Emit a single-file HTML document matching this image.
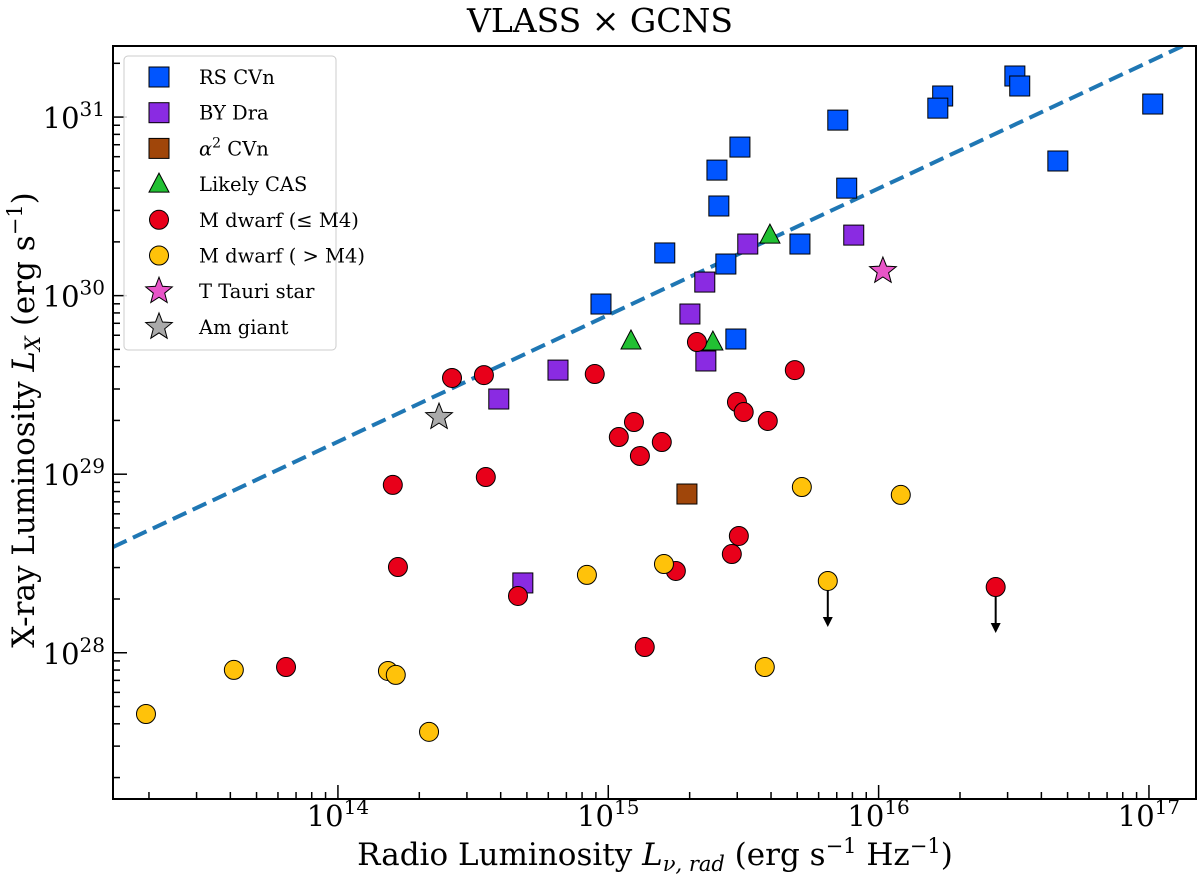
<!DOCTYPE html>
<html><head><meta charset="utf-8"><style>
body{margin:0;background:#fff;}
svg{display:block;font-family:"DejaVu Serif","Liberation Serif",serif;}
</style></head><body>
<svg id="chart" width="1200" height="878"></svg>
<script>
const rsX=[16.504,16.522,16.237,16.219,17.014,16.663,15.849,15.882,15.709,15.487,15.402,15.409,15.435,15.209,14.973,15.472];
const rsY=[31.230,31.174,31.118,31.050,31.073,30.754,30.983,30.602,30.289,30.832,30.703,30.502,30.177,30.239,29.953,29.757];
const byX=[15.908,15.516,15.357,15.302,15.361,14.814,14.595,14.684];
const byY=[30.339,30.289,30.076,29.897,29.634,29.583,29.421,28.391];
const a2X=[15.291];const a2Y=[28.889];
const casX=[15.598,15.084,15.387];const casY=[30.339,29.746,29.740];
const redX=[14.422,14.540,14.950,15.690,15.328,15.476,15.501,15.590,15.095,15.039,15.198,15.117,14.547,14.203,15.483,15.457,15.250,14.222,14.666,15.135,13.808,16.433];
const redY=[29.539,29.555,29.561,29.583,29.740,29.404,29.348,29.298,29.292,29.208,29.180,29.102,28.984,28.940,28.654,28.553,28.458,28.480,28.318,28.032,27.920,28.368];
const redLimit=[0,0,0,0,0,0,0,0,0,0,0,0,0,0,0,0,0,0,0,0,0,1];
const yelX=[13.290,13.615,14.185,14.214,14.337,14.921,15.206,15.716,16.082,15.579,15.812];
const yelY=[27.657,27.904,27.898,27.876,27.557,28.436,28.497,28.928,28.884,27.920,28.402];
const yelLimit=[0,0,0,0,0,0,0,0,0,0,1];
const ttX=[16.016];const ttY=[30.138];
const amX=[14.374];const amY=[29.320];
const fitX=[13.168,17.132];const fitY=[28.592,31.403];
const xTicks=[14,15,16,17];const yTicks=[28,29,30,31];

const NS="http://www.w3.org/2000/svg";
const svg=document.getElementById('chart');
const L=113,R=1196,T=46,B=799;
const X0=13.168,X1=17.174,Y0=27.181,Y1=31.398;
const sx=v=>L+(v-X0)/(X1-X0)*(R-L);
const sy=v=>B-(v-Y0)/(Y1-Y0)*(B-T);
function el(tag,attrs,parent){const e=document.createElementNS(NS,tag);for(const k in attrs)e.setAttribute(k,attrs[k]);(parent||svg).appendChild(e);return e;}

const title=el('text',{x:600,y:32,'text-anchor':'middle','font-size':33});
title.textContent='VLASS × GCNS';



const defs=el('defs',{});
const cp=el('clipPath',{id:'pc'},defs);el('rect',{x:L,y:T,width:R-L,height:B-T},cp);

const tg=el('g',{stroke:'#000','stroke-width':1.5});


for(let d=13;d<=17;d++){for(let m=1;m<10;m++){const v=d+Math.log10(m);if(v<X0||v>X1)continue;const x=sx(v);el('line',{x1:x,x2:x,y1:B,y2:B-(m==1?14:7)},tg);}}
for(let d=27;d<=31;d++){for(let m=1;m<10;m++){const v=d+Math.log10(m);if(v<Y0||v>Y1)continue;const y=sy(v);el('line',{x1:L,x2:L+(m==1?14:7),y1:y,y2:y},tg);}}
xTicks.forEach(t=>{const tx=el('text',{x:sx(t),y:B+27,'text-anchor':'middle','font-size':29});tx.innerHTML='10<tspan dy="-12" font-size="20">'+t+'</tspan>';});
yTicks.forEach(t=>{const tx=el('text',{x:L-8,y:sy(t)+11,'text-anchor':'end','font-size':29});tx.innerHTML='10<tspan dy="-12" font-size="20">'+t+'</tspan>';});

const xl=el('text',{x:655,y:865,'text-anchor':'middle','font-size':31});

xl.innerHTML='Radio Luminosity <tspan font-style="italic">L</tspan><tspan font-size="21" dy="6" font-style="italic">ν, rad</tspan><tspan dy="-6"> (erg s</tspan><tspan dy="-12" font-size="21">−1</tspan><tspan dy="12"> Hz</tspan><tspan dy="-12" font-size="21">−1</tspan><tspan dy="12">)</tspan>';
const yl=el('text',{x:0,y:0,'text-anchor':'middle','font-size':31,transform:'translate(34,420) rotate(-90)'});

yl.innerHTML='X-ray Luminosity <tspan font-style="italic">L</tspan><tspan font-size="21" dy="6" font-style="italic">X</tspan><tspan dy="-6"> (erg s</tspan><tspan dy="-12" font-size="21">−1</tspan><tspan dy="12">)</tspan>';

const fl=el('line',{x1:sx(fitX[0]),y1:sy(fitY[0]),x2:sx(fitX[1]),y2:sy(fitY[1]),stroke:'#1f77b4','stroke-width':4,'stroke-dasharray':'15,7','clip-path':'url(#pc)'});


function marker(g,shape,cx,cy,fill){
  if(shape==='s')return el('rect',{x:cx-10,y:cy-10,width:20,height:20,fill:fill,stroke:'#000','stroke-width':1},g);
  if(shape==='o')return el('circle',{cx:cx,cy:cy,r:9.5,fill:fill,stroke:'#000','stroke-width':1},g);
  if(shape==='^')return el('polygon',{points:`${cx},${cy-11} ${cx+10},${cy+8} ${cx-10},${cy+8}`,fill:fill,stroke:'#000','stroke-width':1},g);
  const p=[];for(let i=0;i<10;i++){const r=i%2?6:14;const a=-Math.PI/2+i*Math.PI/5;p.push((cx+r*Math.cos(a)).toFixed(1)+','+(cy+r*Math.sin(a)).toFixed(1));}
  return el('polygon',{points:p.join(' '),fill:fill,stroke:'#000','stroke-width':1},g);
}
function series(name,xs,ys,shape,fill,lim){
  const g=el('g',{'clip-path':'url(#pc)'});
  
  xs.forEach((v,i)=>{const cx=sx(v),cy=sy(ys[i]);
    if(lim&&lim[i]){const a=el('g',{},g);
      el('line',{x1:cx,y1:cy,x2:cx,y2:cy+40,stroke:'#000','stroke-width':2},a);
      el('polygon',{points:`${cx-5},${cy+36} ${cx+5},${cy+36} ${cx},${cy+46}`,fill:'#000'},a);}
    const m=marker(g,shape,cx,cy,fill);
    });
}
series('rs-cvn',rsX,rsY,'s','#0055ff');
series('by-dra',byX,byY,'s','#8a2be2');
series('alpha2-cvn',a2X,a2Y,'s','#a0460a');
series('likely-cas',casX,casY,'^','#22c033');
series('m-dwarf-early',redX,redY,'o','#e8001a',redLimit);
series('m-dwarf-late',yelX,yelY,'o','#ffc20a',yelLimit);
series('t-tauri',ttX,ttY,'*','#e855c8');
series('am-giant',amX,amY,'*','#aaaaaa');

const fr=el('rect',{x:L,y:T,width:R-L,height:B-T,fill:'none',stroke:'#000','stroke-width':2});


const lg=el('g',{});
el('rect',{x:124,y:56,width:212,height:294,rx:4,fill:'#fff','fill-opacity':0.85,stroke:'#ccc','stroke-width':1},lg);
const items=[['RS CVn','s','#0055ff'],['BY Dra','s','#8a2be2'],['α² CVn','s','#a0460a'],['Likely CAS','^','#22c033'],['M dwarf (≤  M4)','o','#e8001a'],['M dwarf ( >  M4)','o','#ffc20a'],['T Tauri star','*','#e855c8'],['Am giant','*','#aaaaaa']];
items.forEach((it,i)=>{const y=77+i*35.7;const g=el('g',{},lg);
  
  marker(g,it[1],159,y,it[2]);
  const t=el('text',{x:199,y:y+7,'font-size':19.5},g);
  if(i===2){t.innerHTML='<tspan font-style="italic">α</tspan><tspan dy="-8" font-size="14">2</tspan><tspan dy="8"> CVn</tspan>';}
  else t.textContent=it[0];});
</script>
</body></html>
